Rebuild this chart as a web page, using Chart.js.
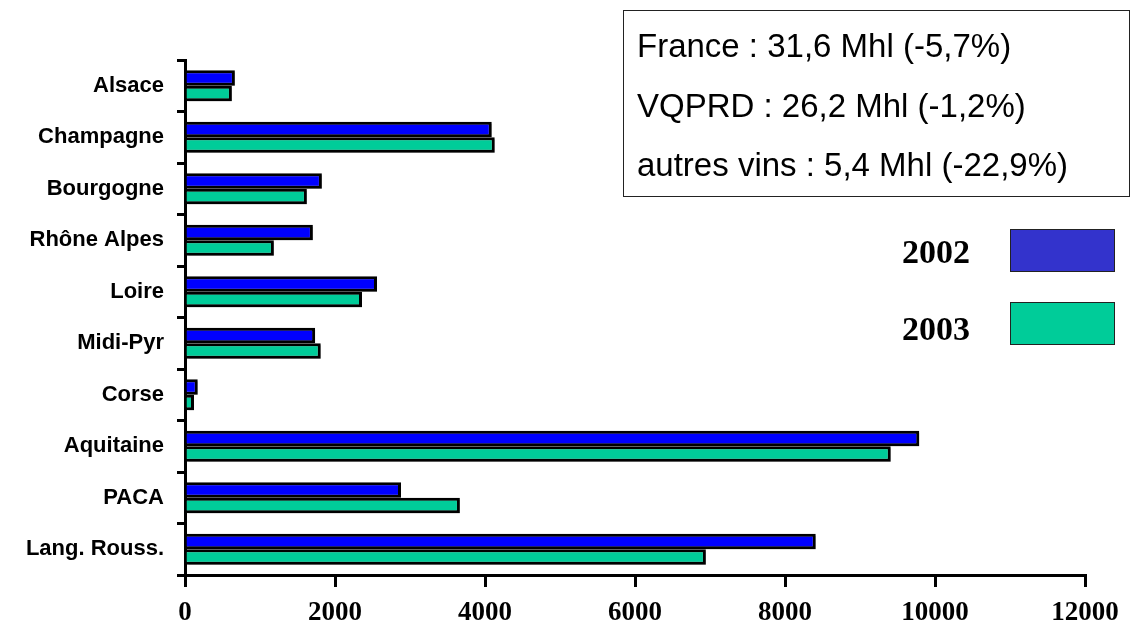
<!DOCTYPE html>
<html>
<head>
<meta charset="utf-8">
<script src="https://cdn.jsdelivr.net/npm/chart.js@4/dist/chart.umd.min.js"></script>
<style>
    body { margin: 0; background: #fff; }
    #wrap { position: relative; width: 1148px; height: 633px; }
    #infoBox {
        position: absolute; left: 623px; top: 10px; width: 507px; height: 187px;
        border: 1.5px solid #222; box-sizing: border-box;
        font-family: "Liberation Sans", Arial, sans-serif; font-size: 33px; color: #000;
    }
    #infoBox div { position: absolute; left: 13px; height: 40px; line-height: 40px; white-space: nowrap; }
    .legItem { position: absolute; left: 880px; width: 240px; height: 44px; }
    .legItem span {
        position: absolute; left: 22px; height: 40px; line-height: 40px;
        font-family: "Liberation Serif", "Times New Roman", serif; font-weight: bold; font-size: 34px;
    }
    .legItem i {
        position: absolute; left: 130px; top: 0; width: 105px; height: 43px;
        border: 1.5px solid #222; box-sizing: border-box;
    }
</style>
</head>
<body>
<div id="wrap">
    <canvas id="myChart" width="1148" height="633"></canvas>
    <div id="infoBox"></div>
</div>
<script>
// regions (top to bottom)
const regions = ['Alsace', 'Champagne', 'Bourgogne', 'Rhône Alpes', 'Loire', 'Midi-Pyr', 'Corse', 'Aquitaine', 'PACA', 'Lang. Rouss.'];
const years = ['2002', '2003'];
const prod2002 = [665, 4090, 1825, 1705, 2560, 1735, 170, 9790, 2880, 8410];
const prod2003 = [625, 4130, 1625, 1185, 2360, 1810, 120, 9410, 3665, 6945];
const xTicks = [0, 2000, 4000, 6000, 8000, 10000, 12000];
const summary = ['France : 31,6 Mhl (-5,7%)', 'VQPRD : 26,2 Mhl (-1,2%)', 'autres vins : 5,4 Mhl (-22,9%)'];

const barColors = ['#0000FF', '#00CC99'];
const legendColors = ['#3333CC', '#00CC99'];

// summary box text
let box = document.getElementById('infoBox');
summary.forEach(function(line, i){
    let d = document.createElement('div');
    d.textContent = line;
    d.style.top = (15 + i * 59.5) + 'px';
    box.appendChild(d);
});

// legend on the right
years.forEach(function(y, i){
    let item = document.createElement('div');
    item.className = 'legItem';
    item.style.top = (229 + i * 73) + 'px';
    item.innerHTML = '<span></span><i></i>';
    item.querySelector('span').textContent = y;
    item.querySelector('span').style.top = (i === 0 ? 3 : 7) + 'px';
    item.querySelector('i').style.background = legendColors[i];
    document.getElementById('wrap').appendChild(item);
});

// light grey drop shadow behind bars
const barShadow = {
    id: 'barShadow',
    beforeDatasetsDraw: function(chart){
        let ctx = chart.ctx;
        ctx.save();
        ctx.shadowColor = 'rgba(0,0,0,0.25)';
        ctx.shadowOffsetX = 2;
        ctx.shadowOffsetY = 2;
        ctx.shadowBlur = 0;
    },
    afterDatasetsDraw: function(chart){
        chart.ctx.restore();
    }
};

let ctx = document.getElementById('myChart');
new Chart(ctx, {
    type: 'bar',
    data: {
        labels: regions,
        datasets: [{
            label: years[0],
            data: prod2002,
            backgroundColor: barColors[0],
            borderColor: '#000',
            borderWidth: 3
        }, {
            label: years[1],
            data: prod2003,
            backgroundColor: barColors[1],
            borderColor: '#000',
            borderWidth: 3
        }]
    },
    plugins: [barShadow],
    options: {
        indexAxis: 'y',
        responsive: false,
        animation: false,
        categoryPercentage: 0.6,
        barPercentage: 1.0,
        layout: {
            padding: { top: 60, right: 63, left: 0, bottom: 0 }
        },
        plugins: {
            legend: { display: false },
            tooltip: { enabled: false }
        },
        scales: {
            x: {
                min: 0,
                max: 12000,
                afterBuildTicks: function(scale){
                    scale.ticks = xTicks.map(function(v){ return { value: v }; });
                },
                afterFit: function(scale){ scale.height = 58; },
                border: { display: true, color: '#000', width: 3 },
                grid: {
                    drawOnChartArea: false,
                    color: '#000',
                    lineWidth: 3,
                    tickLength: 12
                },
                ticks: {
                    color: '#000',
                    padding: 10,
                    maxRotation: 0,
                    font: { family: '"Liberation Serif", "Times New Roman", serif', weight: 'bold', size: 27 },
                    callback: function(v){ return String(v); }
                }
            },
            y: {
                afterFit: function(scale){ scale.width = 185; },
                border: { display: true, color: '#000', width: 3 },
                grid: {
                    drawOnChartArea: false,
                    offset: true,
                    color: '#000',
                    lineWidth: 3,
                    tickLength: 8
                },
                ticks: {
                    color: '#000',
                    padding: 13,
                    font: { family: '"Liberation Sans", Arial, sans-serif', weight: 'bold', size: 22 }
                }
            }
        }
    }
});
</script>
</body>
</html>
